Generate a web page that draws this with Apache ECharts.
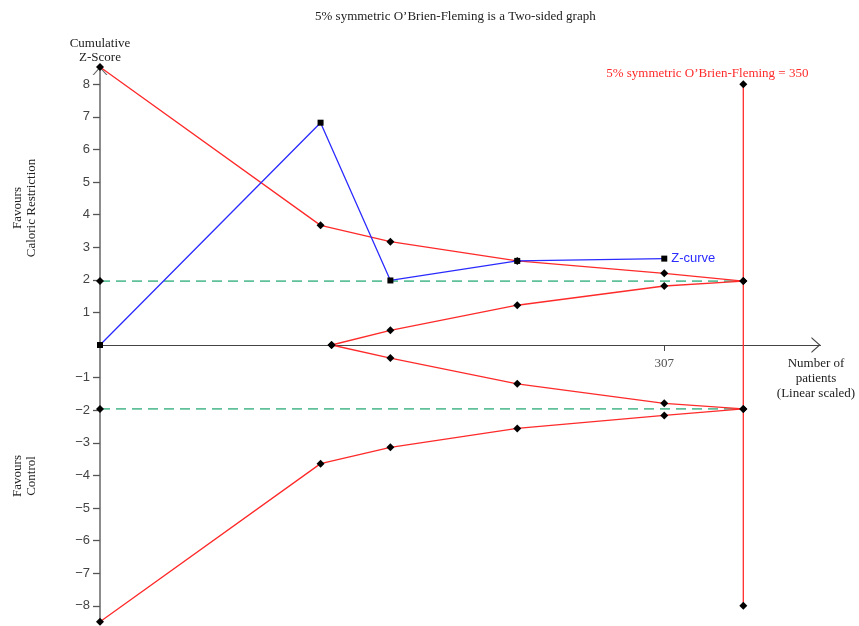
<!DOCTYPE html>
<html>
<head>
<meta charset="utf-8">
<script src="https://cdn.jsdelivr.net/npm/echarts@6/dist/echarts.min.js"></script>
<style>
  html, body { margin: 0; padding: 0; background: #fff; }
  #chart { width: 859px; height: 626px; }
</style>
</head>
<body>
<div id="chart"></div>
<script>
// Cumulative Z-score by number of patients
const zCurve = [[0, 0], [120, 6.82], [158, 1.98], [227, 2.58], [307, 2.65]];
// O'Brien-Fleming monitoring boundaries
const upperBoundary = [[0, 8.53], [120, 3.67], [158, 3.17], [227, 2.58], [307, 2.20], [350, 1.96]];
const lowerBoundary = [[0, -8.49], [120, -3.64], [158, -3.14], [227, -2.56], [307, -2.16], [350, -1.96]];
// Inner (futility) wedge
const upperInner = [[126, 0], [158, 0.45], [227, 1.22], [307, 1.81], [350, 1.96]];
const lowerInner = [[126, 0], [158, -0.40], [227, -1.19], [307, -1.79], [350, -1.96]];
// Required information size and its vertical extent
const requiredSize = 350;
const requiredSpan = [-8, 8];
// Conventional significance level
const conventionalZ = 1.96;
// Tick labels
const xTickValues = [307];
const yTickValues = [-8, -7, -6, -5, -4, -3, -2, -1, 1, 2, 3, 4, 5, 6, 7, 8];

const SERIF = '"Liberation Serif", "Times New Roman", serif';
const SANS = '"Liberation Sans", Arial, sans-serif';
const RED = '#ff2a2a';
const BLUE = '#2b2bff';
const GREEN = '#5fc09a';
const chevron = 'path://M0,9 L8,0 L16,9 L14.5,9 L8,1.7 L1.5,9 Z';

const chart = echarts.init(document.getElementById('chart'), null, { renderer: 'canvas' });

const diamond = { symbol: 'diamond', symbolSize: 8, itemStyle: { color: '#000' } };

function boundarySeries(data) {
  return Object.assign({
    type: 'line', data: data, z: 3,
    lineStyle: { color: RED, width: 1.3 },
    emphasis: { disabled: true }, animation: false
  }, diamond);
}

function conventionalLine(z) {
  return {
    type: 'line', z: 2, animation: false,
    data: [
      { value: [0, z], symbol: 'diamond', symbolSize: 8 },
      { value: [requiredSize, z], symbol: 'none' }
    ],
    itemStyle: { color: '#000' },
    lineStyle: { color: GREEN, width: 1.6, type: [10, 6] },
    emphasis: { disabled: true }
  };
}

const option = {
  backgroundColor: '#fff',
  animation: false,
  title: {
    text: '5% symmetric O\u2019Brien-Fleming is a Two-sided graph',
    left: 310, top: 5,
    textStyle: { fontFamily: SERIF, fontSize: 13, fontWeight: 'normal', color: '#222' }
  },
  grid: { left: 100, right: 38.5, top: 66.3, bottom: 2.3, outerBoundsMode: 'none', containLabel: false },
  xAxis: {
    type: 'value', min: 0, max: 392,
    splitLine: { show: false },
    axisLine: {
      onZero: true,
      lineStyle: { color: '#444', width: 1.2 },
      symbol: ['none', chevron], symbolSize: [16, 9], symbolOffset: [0, -4.5]
    },
    axisTick: { show: true, length: 6, customValues: xTickValues, lineStyle: { color: '#444' } },
    axisLabel: { show: false }
  },
  yAxis: {
    type: 'value', min: -8.55, max: 8.55,
    name: 'Cumulative\nZ-Score', nameLocation: 'end', nameGap: 2,
    nameTextStyle: { fontFamily: SERIF, fontSize: 13, color: '#222', lineHeight: 14, align: 'center', verticalAlign: 'bottom' },
    splitLine: { show: false },
    axisLine: {
      lineStyle: { color: '#666', width: 1.5 },
      symbol: ['none', chevron], symbolSize: [15, 9], symbolOffset: [0, -4.5]
    },
    axisTick: { show: true, length: 7, customValues: yTickValues, lineStyle: { color: '#555', width: 1.3 } },
    axisLabel: {
      customValues: yTickValues, margin: 10,
      fontFamily: SANS, fontSize: 13, color: '#444',
      formatter: v => String(v).replace('-', '\u2212')
    }
  },
  graphic: [
    {
      type: 'text', x: 25, y: 208, rotation: Math.PI / 2,
      style: { text: 'Favours\nCaloric Restriction', align: 'center', verticalAlign: 'middle',
               font: '13px ' + SERIF, fill: '#222', lineHeight: 14 }
    },
    {
      type: 'text', x: 25, y: 476, rotation: Math.PI / 2,
      style: { text: 'Favours\nControl', align: 'center', verticalAlign: 'middle',
               font: '13px ' + SERIF, fill: '#222', lineHeight: 14 }
    },
    {
      type: 'text', x: 816, y: 379,
      style: { text: 'Number of\npatients\n(Linear scaled)', align: 'center', verticalAlign: 'middle',
               font: '13px ' + SERIF, fill: '#222', lineHeight: 15 }
    }
  ],
  series: [
    conventionalLine(conventionalZ),
    conventionalLine(-conventionalZ),
    // Tick label on the patient axis, placed at the zero line
    {
      type: 'scatter', z: 1, animation: false, silent: true,
      data: xTickValues.map(v => [v, 0]),
      symbolSize: 1, itemStyle: { color: 'rgba(0,0,0,0)' },
      label: {
        show: true, position: 'bottom', distance: 12,
        formatter: p => String(p.value[0]),
        fontFamily: SERIF, fontSize: 13, color: '#222'
      },
      emphasis: { disabled: true }
    },
    // Required information size line
    {
      type: 'line', z: 3, animation: false,
      data: [
        { value: [requiredSize, requiredSpan[0]] },
        {
          value: [requiredSize, requiredSpan[1]],
          label: {
            show: true, position: 'top', distance: 3, offset: [-36, 3],
            formatter: '5% symmetric O\u2019Brien-Fleming = ' + requiredSize,
            fontFamily: SERIF, fontSize: 13, color: RED
          }
        }
      ],
      symbol: 'diamond', symbolSize: 8, itemStyle: { color: '#000' },
      lineStyle: { color: RED, width: 1.3 },
      emphasis: { disabled: true }
    },
    boundarySeries(upperBoundary),
    boundarySeries(lowerBoundary),
    boundarySeries(upperInner),
    boundarySeries(lowerInner),
    // Cumulative Z-curve
    {
      type: 'line', z: 4, animation: false,
      data: zCurve.map((p, i) => i === zCurve.length - 1
        ? { value: p, label: { show: true, position: 'right', distance: 4, formatter: 'Z-curve',
                               fontFamily: SANS, fontSize: 13, color: BLUE } }
        : { value: p }),
      symbol: 'rect', symbolSize: 6, itemStyle: { color: '#000' },
      lineStyle: { color: BLUE, width: 1.3 },
      emphasis: { disabled: true }
    }
  ]
};

chart.setOption(option);
</script>
</body>
</html>
